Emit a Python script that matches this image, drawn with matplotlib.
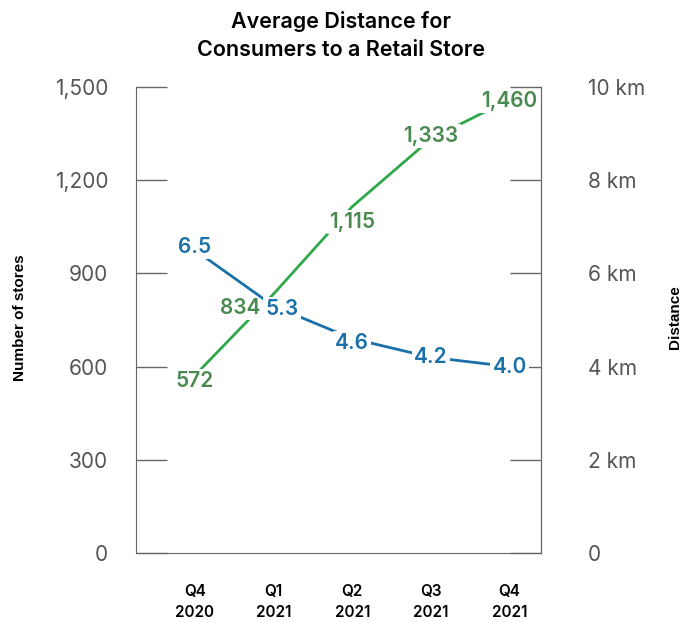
import matplotlib
matplotlib.use('Agg')
import matplotlib.pyplot as plt
from matplotlib.ticker import FuncFormatter

quarters = ['Q4\n2020', 'Q1\n2021', 'Q2\n2021', 'Q3\n2021', 'Q4\n2021']
stores = [572, 834, 1115, 1333, 1460]
distance_km = [6.5, 5.3, 4.6, 4.2, 4.0]

# label nudges in points (dx, dy) so the numbers don't sit on each other
store_offsets = [(0, -4), (-24, -10), (0, -11), (0, 2), (0, -1)]
dist_offsets = [(0, 2), (6, -2), (0, -3), (0, 0), (0, 0)]

green_line = '#2ea84a'
green_text = '#4a8a50'
blue = '#1a70a8'
grey = '#555555'
spine = '#666666'

plt.rcParams['font.family'] = ['Inter', 'DejaVu Sans']

fig = plt.figure(figsize=(6.93, 6.22), dpi=100)
ax = fig.add_axes([136/693, 69/622, 405/693, 466/622])
ax2 = ax.twinx()

x = list(range(len(quarters)))
ax.plot(x, stores, color=green_line, lw=2, zorder=2)
ax2.plot(x, distance_km, color=blue, lw=2, zorder=2)

for xi, v, (dx, dy) in zip(x, stores, store_offsets):
    ax.annotate(f'{v:,}', (xi, v), xytext=(dx, dy), textcoords='offset points',
                ha='center', va='center', fontsize=15, fontweight='semibold',
                color=green_text, zorder=5,
                bbox=dict(boxstyle='square,pad=0.1', fc='white', ec='none'))
for xi, v, (dx, dy) in zip(x, distance_km, dist_offsets):
    ax2.annotate(f'{v:.1f}', (xi, v), xytext=(dx, dy), textcoords='offset points',
                 ha='center', va='center', fontsize=15, fontweight='semibold',
                 color=blue, zorder=5,
                 bbox=dict(boxstyle='square,pad=0.1', fc='white', ec='none'))

ax.set_xlim(-0.75, 4.4)
ax.set_ylim(0, 1500)
ax2.set_ylim(0, 10)
ax.set_yticks([0, 300, 600, 900, 1200, 1500])
ax2.set_yticks([0, 2, 4, 6, 8, 10])
ax.yaxis.set_major_formatter(FuncFormatter(lambda v, p: f'{int(v):,}'))
ax2.yaxis.set_major_formatter(FuncFormatter(lambda v, p: f'{int(v)} km' if v else '0'))

ax.set_xticks(x)
ax.set_xticklabels(quarters, fontsize=11, fontweight='semibold', linespacing=1.55)
ax.tick_params(axis='x', length=0, pad=22)
ax.tick_params(axis='y', direction='in', length=22, width=1, color=spine,
               labelsize=15, labelcolor=grey, pad=20)
ax2.tick_params(axis='y', direction='in', length=22, width=1, color=spine,
                labelsize=15, labelcolor=grey, pad=34)

for a in (ax, ax2):
    a.spines['top'].set_visible(False)
    for s in ('left', 'right', 'bottom'):
        a.spines[s].set_color(spine)
ax2.spines['left'].set_visible(False)
ax2.spines['bottom'].set_visible(False)

fig.text(20/693, 0.49, 'Number of stores', rotation=90, ha='center', va='center',
         fontsize=11, fontweight='bold', family='Liberation Sans')
fig.text(675/693, 0.49, 'Distance', rotation=90, ha='center', va='center',
         fontsize=11, fontweight='bold', family='Liberation Sans')
fig.text(0.492, 0.943, 'Average Distance for\nConsumers to a Retail Store',
         ha='center', va='center', fontsize=15.5, fontweight='semibold',
         linespacing=1.45)

fig.savefig('out.png', dpi=100)
